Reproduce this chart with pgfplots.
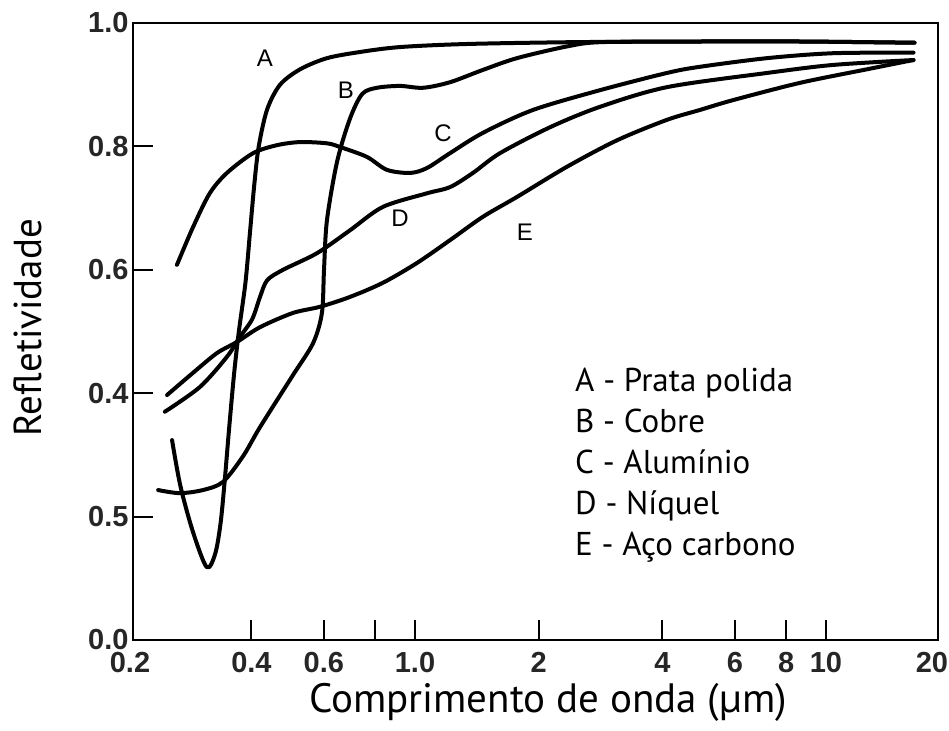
\documentclass[border=0pt]{standalone}
\usepackage{fontspec}
\usepackage{pgfplots}
\pgfplotsset{compat=1.18}
\setmainfont{PT Sans}
\newfontfamily\tickfont{Liberation Sans}
\pgfplotsset{curve/.style={black, line width=4pt, line join=round, line cap=round, smooth, mark=none}}
\newcommand{\tickfs}{\tickfont\bfseries\fontsize{29}{29}\selectfont}
\begin{document}
\begin{tikzpicture}
\begin{axis}[
  name=ax,
  scale only axis, width=805pt, height=617pt,
  xmode=log, xmin=0.2060, xmax=18.73, ymin=0, ymax=1,
  axis line style={line width=2.5pt},
  xtick={0.2060,0.4,0.6,0.8,1,2,4,6,8,10,18.73},
  xticklabels={,0.4,0.6,,1.0,2,4,6,8,10,},
  ytick={0,0.2,0.4,0.6,0.8,1},
  yticklabels={0.0,0.5,0.4,0.6,0.8,1.0},
  xminorticks=false,
  major tick length=20pt,
  tick style={line width=2pt, black},
  tick align=inside, xtick pos=bottom, ytick pos=left,
  tick label style={font=\tickfs, text=black!85},
  xticklabel style={yshift=-9pt},
  yticklabel style={xshift=-1pt},
  xlabel={Comprimento de onda (µm)},
  ylabel={Refletividade},
  xlabel style={at={(axis description cs:0.5155,-0.101)}, anchor=center, font=\fontsize{41}{41}\selectfont},
  ylabel style={at={(axis description cs:-0.1304,0.506)}, anchor=center, rotate=0, font=\fontsize{39}{39}\selectfont},
  clip=false,
]
% A - Prata polida
\addplot[curve] coordinates {
(0.2564,0.324)(0.2686,0.25)(0.2883,0.175)(0.3114,0.118)(0.3266,0.14)(0.3366,0.19)
(0.3446,0.26)(0.3527,0.34)(0.3628,0.43)(0.3728,0.50)(0.3870,0.58)(0.3967,0.66)
(0.4067,0.74)(0.4167,0.80)(0.4368,0.86)(0.4696,0.90)(0.5255,0.925)(0.6106,0.943)
(0.7352,0.953)(0.9194,0.961)(1.342,0.966)(2.478,0.969)(4.932,0.970)(8.647,0.970)(16.42,0.968)
};
% B - Cobre
\addplot[curve] coordinates {
(0.2372,0.243)(0.2678,0.238)(0.3046,0.243)(0.3407,0.256)(0.3818,0.298)(0.4197,0.345)
(0.5044,0.429)(0.5649,0.481)(0.5937,0.530)(0.6007,0.60)(0.6106,0.68)(0.6462,0.775)
(0.6947,0.845)(0.7441,0.885)(0.8081,0.895)(0.9194,0.898)(1.046,0.895)(1.2166,0.904)
(1.4636,0.924)(1.770,0.943)(2.343,0.962)(2.844,0.969)(4.932,0.970)(8.647,0.970)(16.42,0.968)
};
% C - Aluminio
\addplot[curve] coordinates {
(0.2635,0.608)(0.2883,0.669)(0.3167,0.724)(0.3487,0.757)(0.4037,0.789)(0.4616,0.802)
(0.5255,0.807)(0.6106,0.805)(0.6571,0.799)(0.7638,0.783)(0.8545,0.762)(0.9732,0.757)
(1.0697,0.765)(1.2166,0.789)(1.4636,0.822)(1.936,0.859)(2.815,0.891)(4.101,0.919)
(4.932,0.929)(7.183,0.943)(10.40,0.951)(16.33,0.952)
};
% D - Niquel
\addplot[curve] coordinates {
(0.2463,0.370)(0.2996,0.410)(0.3487,0.459)(0.3748,0.491)(0.4017,0.52)(0.4197,0.556)
(0.4368,0.583)(0.4775,0.600)(0.5778,0.627)(0.6947,0.664)(0.8358,0.702)(1.0697,0.724)
(1.2166,0.734)(1.3836,0.757)(1.6097,0.789)(2.130,0.831)(2.815,0.864)(4.101,0.896)
(7.183,0.919)(10.40,0.932)(16.33,0.940)
};
% E - Aco carbono
\addplot[curve] coordinates {
(0.2493,0.397)(0.2883,0.433)(0.3297,0.465)(0.3688,0.483)(0.4197,0.507)(0.5044,0.530)
(0.5868,0.540)(0.6947,0.556)(0.8358,0.579)(1.0108,0.611)(1.2166,0.648)(1.4636,0.686)
(1.770,0.718)(2.343,0.767)(3.104,0.810)(4.101,0.843)(4.932,0.859)(5.940,0.875)
(8.647,0.903)(12.59,0.925)(16.33,0.940)
};
\begin{scope}[every node/.style={font=\tickfont\fontsize{24}{24}\selectfont}]
\node at (axis cs:0.4315,0.943) {A};
\node at (axis cs:0.679,0.891) {B};
\node at (axis cs:1.170,0.822) {C};
\node at (axis cs:0.9194,0.684) {D};
\node at (axis cs:1.852,0.661) {E};
\end{scope}
\node[anchor=north, font=\tickfs, text=black!85, xshift=-3pt, yshift=-9pt] at (axis description cs:0,0) {0.2};
\node[anchor=north, font=\tickfs, text=black!85, xshift=-6pt, yshift=-9pt] at (axis description cs:1,0) {20};
\node[anchor=north west, align=left, inner sep=0pt, font=\fontsize{33}{41}\selectfont]
  at (axis description cs:0.549,0.441)
  {A - Prata polida\\B - Cobre\\C - Alumínio\\D - Níquel\\E - Aço carbono};
\end{axis}
\pgfresetboundingbox
\path[use as bounding box] ([shift={(-133pt,-91pt)}]ax.south west) rectangle ([shift={(11pt,23pt)}]ax.north east);
\end{tikzpicture}
\end{document}
